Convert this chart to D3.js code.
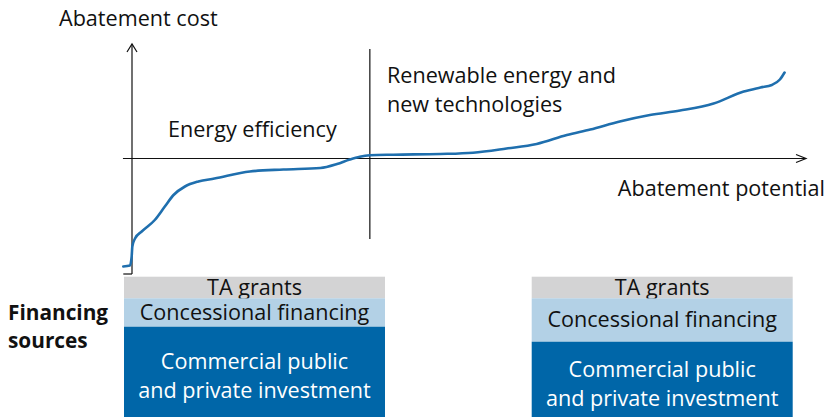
<!DOCTYPE html>
<meta charset="utf-8">
<script src="https://d3js.org/d3.v7.min.js"></script>
<style>
    body { margin: 0; background: #fff; }
    svg text { font-family: "Open Sans", sans-serif; }
</style>
<div id="chart"></div>
<script>
    // abatement cost curve (x: potential, y: cost)
    var potential = [-1.3, -0.3, -0.05, 0.05, 0.45, 1.45, 3.4, 4.9, 6.2, 7.9, 9.9, 12.3, 17.6, 22.6, 28.1, 30.6, 32.5, 34.0, 35.5, 39.0, 46.0, 50.9, 55.9, 60.4, 64.9, 68.4, 72.8, 77.3, 81.8, 86.8, 91.3, 93.8, 95.5, 96.7, 97.4];
    var cost = [-10.8, -10.7, -9.8, -8.8, -8.0, -7.3, -6.15, -4.8, -3.65, -2.8, -2.3, -2.0, -1.3, -1.1, -0.95, -0.55, -0.1, 0.18, 0.32, 0.38, 0.45, 0.58, 1.0, 1.45, 2.35, 2.9, 3.7, 4.35, 4.8, 5.5, 6.7, 7.1, 7.35, 7.9, 8.6];

    // split between the two groups of measures
    var splitAt = 35.5;

    // financing stacks: labels and heights (top to bottom; last one runs off the page)
    var stackLabels = ["TA grants", "Concessional financing", "Commercial public\nand private investment"];
    var leftStack = [21.6, 28.4, 100];
    var rightStack = [21.6, 43.4, 85];

    var width = 831, height = 417;

    var svg = d3.select("#chart")
        .append("svg")
        .attr("width", width)
        .attr("height", height);

    var x = d3.scaleLinear().domain([0, 100]).range([132, 802]);
    var y = d3.scaleLinear().domain([0, 1]).range([158.5, 148.5]);

    // axes
    var axis = svg.append("g").attr("stroke", "#111").attr("stroke-width", 1.2).attr("fill", "none");
    axis.append("line")
        .attr("x1", x(-1.35)).attr("x2", x(100.6))
        .attr("y1", y(0)).attr("y2", y(0));
    axis.append("path")
        .attr("d", "M" + (x(100.6) - 10) + "," + (y(0) - 4) + "L" + x(100.6) + "," + y(0) + "L" + (x(100.6) - 10) + "," + (y(0) + 4));
    axis.append("line")
        .attr("x1", x(0)).attr("x2", x(0))
        .attr("y1", y(-11.55)).attr("y2", y(11.45));
    axis.append("path")
        .attr("d", "M" + (x(0) - 5) + "," + (y(11.45) + 8) + "L" + x(0) + "," + y(11.45) + "L" + (x(0) + 5) + "," + (y(11.45) + 8));
    axis.append("line")
        .attr("x1", x(-1.3)).attr("x2", x(0))
        .attr("y1", y(-11.55)).attr("y2", y(-11.55));
    axis.append("line")
        .attr("x1", x(splitAt)).attr("x2", x(splitAt))
        .attr("y1", y(10.95)).attr("y2", y(-8.05));

    // the curve
    var pts = potential.map(function(p, i) { return [p, cost[i]]; });
    svg.append("path")
        .datum(pts)
        .attr("fill", "none")
        .attr("stroke", "#1f6fae")
        .attr("stroke-width", 2.6)
        .attr("stroke-linecap", "round")
        .attr("d", d3.line()
            .curve(d3.curveMonotoneX)
            .x(function(d) { return x(d[0]); })
            .y(function(d) { return y(d[1]); }));

    // labels
    function label(txt, tx, ty, anchor) {
        return svg.append("text")
            .attr("x", tx).attr("y", ty)
            .attr("font-size", 21.6)
            .attr("fill", "#111")
            .attr("text-anchor", anchor || "start")
            .text(txt);
    }
    label("Abatement cost", 59, 26);
    label("Energy efficiency", 168, 137);
    label("Renewable energy and", 387, 83);
    label("new technologies", 387, 112);
    label("Abatement potential", 825, 196, "end");

    var fs = svg.append("text")
        .attr("font-size", 20.8)
        .attr("font-weight", "bold")
        .attr("fill", "#111");
    fs.append("tspan").attr("x", 8).attr("y", 320).text("Financing");
    fs.append("tspan").attr("x", 8).attr("y", 348).text("sources");

    // financing boxes
    var fills = ["#d3d3d4", "#b3d1e6", "#0066a8"];
    var inks = ["#111", "#111", "#fff"];

    function stack(x0, x1, sizes) {
        var top = 276.7;
        var g = svg.append("g");
        sizes.forEach(function(h, i) {
            g.append("rect")
                .attr("x", x0).attr("y", top)
                .attr("width", x1 - x0).attr("height", h)
                .attr("fill", fills[i]);
            var lines = stackLabels[i].split("\n");
            var lh = 29;
            var cy = top + h / 2 - (lines.length - 1) * lh / 2;
            lines.forEach(function(l, k) {
                g.append("text")
                    .attr("x", (x0 + x1) / 2)
                    .attr("y", cy + k * lh)
                    .attr("dy", "0.33em")
                    .attr("text-anchor", "middle")
                    .attr("font-size", 21.6)
                    .attr("fill", inks[i])
                    .text(l);
            });
            top += h;
        });
    }
    stack(124, 385, leftStack);
    stack(531.7, 792.7, rightStack);
</script>
